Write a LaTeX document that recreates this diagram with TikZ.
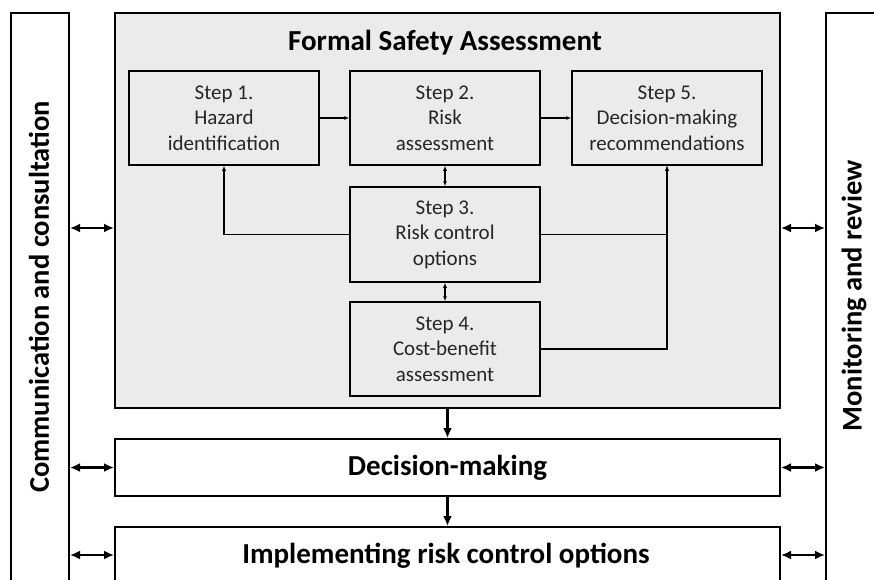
\documentclass[tikz,border=0pt]{standalone}
\usepackage{fontspec}
\setmainfont{Carlito}
\usetikzlibrary{arrows.meta}
\definecolor{panel}{HTML}{EBEBEB}
\definecolor{steptext}{HTML}{262626}
\begin{document}
\begin{tikzpicture}[x=1pt,y=-1pt,
  frame/.style={draw=black,line width=2pt},
  stepbox/.style={draw=black,line width=1.5pt,fill=panel,minimum width=190pt,
    align=center,inner sep=0pt,text=steptext,
    font=\fontsize{21}{25.5}\selectfont},
  small/.style={line width=1.3pt,-{Latex[length=5pt,width=4pt]}},
  smallboth/.style={line width=1.3pt,{Latex[length=5pt,width=4pt]}-{Latex[length=5pt,width=4pt]}},
  big/.style={line width=2.5pt,-{Latex[length=10pt,width=9pt]}},
  bigboth/.style={line width=2.5pt,{Latex[length=10pt,width=9pt]}-{Latex[length=10pt,width=9pt]}},
  head/.style={font=\bfseries\fontsize{29}{34}\selectfont},
  side/.style={rotate=90,font=\bfseries\fontsize{28.5}{33}\selectfont}]
\useasboundingbox (0,0) rectangle (874,579);
\begin{scope}
\clip (0,0) rectangle (874,579);

% side panels (run off the bottom and right)
\node[frame,minimum width=58pt,minimum height=590pt,inner sep=0pt,anchor=north west] (lb) at (10,12) {};
\node[frame,minimum width=58pt,minimum height=590pt,inner sep=0pt,anchor=north west] (rb) at (825,12) {};
\node[side] (lt) at (39,297) {Communication and consultation};
\node[side] (rt) at (854,296) {Monitoring and review};

% Formal Safety Assessment panel
\node[frame,fill=panel,minimum width=665pt,minimum height=395pt,inner sep=0pt,anchor=north west] (fsa) at (114,12) {};
\node[head] (title) at (445,43) {Formal Safety Assessment};

% steps
\node[stepbox,minimum height=94pt] (s1) at (224,118) {Step 1.\\Hazard\\identification};
\node[stepbox,minimum height=94pt] (s2) at (445,118) {Step 2.\\Risk\\assessment};
\node[stepbox,minimum height=94pt] (s5) at (667,118) {Step 5.\\Decision-making\\recommendations};
\node[stepbox,minimum height=95pt] (s3) at (445,234.5) {Step 3.\\Risk control\\options};
\node[stepbox,minimum height=94pt] (s4) at (445,349) {Step 4.\\Cost-benefit\\assessment};

\draw[small] (s1.east) -- (s2.west);
\draw[small] (s2.east) -- (s5.west);
\draw[smallboth] (s2.south) -- (s3.north);
\draw[smallboth] (s3.south) -- (s4.north);
\draw[small] (s3.west) -| (s1.south);
\draw[small] (s3.east) -| (s5.south);
\draw[small] (s4.east) -| (s5.south);

% lower stages
\node[frame,fill=white,minimum width=665pt,minimum height=57pt,inner sep=0pt,anchor=north west] (dm) at (114,438) {};
\node[head] (dmt) at (dm.center) {Decision-making};
\node[frame,fill=white,minimum width=665pt,minimum height=56pt,inner sep=0pt,anchor=north west] (im) at (114,526) {};
\node[head] (imt) at (446,556) {Implementing risk control options};

\draw[big] (fsa.south) -- (dm.north);
\draw[big] (dm.south) -- (im.north);

% exchanges with the side panels
\coordinate (yf) at (0,228);
\draw[bigboth] (lb.east |- yf) -- (fsa.west |- yf);
\draw[bigboth] (fsa.east |- yf) -- (rb.west |- yf);
\draw[bigboth] (lb.east |- dm.west) -- (dm.west);
\draw[bigboth] (dm.east) -- (rb.west |- dm.east);
\draw[bigboth] (lb.east |- im.west) -- (im.west);
\draw[bigboth] (im.east) -- (rb.west |- im.east);
\end{scope}
\end{tikzpicture}
\end{document}
